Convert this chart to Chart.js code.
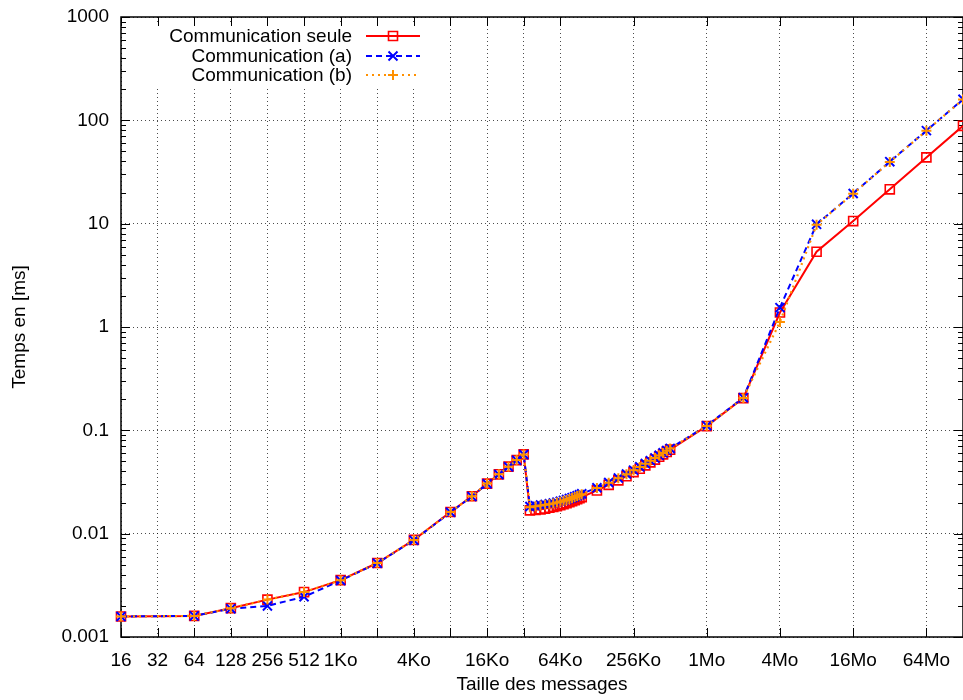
<!DOCTYPE html>
<html>
<head>
<meta charset="utf-8">
<script src="https://cdn.jsdelivr.net/npm/chart.js@4"></script>
<style>
  body { margin: 0; background: #fff; }
</style>
</head>
<body>
<canvas id="commChart" width="963" height="700"></canvas>
<script>
// tailles des messages, en octets
var sizes = [16, 64, 128, 256, 512, 1024, 2048,
  4096, 8192, 12288, 16384, 20480, 24576, 28672, 32768,
  36864, 40960, 45056, 49152, 53248, 57344, 61440, 65536,
  69632, 73728, 77824, 81920, 86016, 90112, 94208, 98304,
  131072, 163840, 196608, 229376, 262144, 294912, 327680,
  360448, 393216, 425984, 458752, 491520, 524288,
  1048576, 2097152, 4194304, 8388608, 16777216, 33554432, 67108864, 134217728];

// temps en ms
var tSeule = [0.00158, 0.00160, 0.00190, 0.00230, 0.00272, 0.00355, 0.00520,
  0.00870, 0.0162, 0.0230, 0.0305, 0.0375, 0.0445, 0.0515, 0.0585,
  0.0168, 0.0170, 0.0172, 0.0175, 0.0178, 0.0181, 0.0185, 0.0189,
  0.0193, 0.0197, 0.0202, 0.0206, 0.0211, 0.0216, 0.0221, 0.0226,
  0.0262, 0.0297, 0.0328, 0.0360, 0.0394, 0.0425, 0.0458,
  0.0490, 0.0521, 0.0555, 0.0586, 0.0618, 0.0650,
  0.110, 0.205, 1.38, 5.35, 10.6, 21.5, 43.8, 88.5];

var tA = [0.00158, 0.00160, 0.00188, 0.00200, 0.00245, 0.00352, 0.00518,
  0.00865, 0.0161, 0.0229, 0.0304, 0.0374, 0.0444, 0.0514, 0.0584,
  0.0183, 0.0186, 0.0189, 0.0192, 0.0195, 0.0198, 0.0202, 0.0206,
  0.0210, 0.0214, 0.0219, 0.0223, 0.0228, 0.0233, 0.0238, 0.0243,
  0.0278, 0.0313, 0.0345, 0.0378, 0.0412, 0.0444, 0.0477,
  0.0509, 0.0541, 0.0574, 0.0606, 0.0638, 0.0668,
  0.111, 0.207, 1.54, 9.85, 19.6, 39.8, 79.5, 160];

var tB = [0.00158, 0.00160, 0.00190, 0.00230, 0.00272, 0.00355, 0.00520,
  0.00870, 0.0162, 0.0230, 0.0305, 0.0375, 0.0445, 0.0515, 0.0585,
  0.0180, 0.0184, 0.0187, 0.0190, 0.0193, 0.0196, 0.0200, 0.0204,
  0.0208, 0.0212, 0.0217, 0.0221, 0.0226, 0.0231, 0.0236, 0.0241,
  0.0276, 0.0311, 0.0343, 0.0376, 0.0410, 0.0442, 0.0475,
  0.0507, 0.0539, 0.0572, 0.0604, 0.0636, 0.0666,
  0.110, 0.206, 1.12, 9.75, 19.5, 39.6, 79.2, 159];

var xTickVals = [16, 32, 64, 128, 256, 512, 1024, 2048, 4096, 8192, 16384, 32768,
  65536, 262144, 1048576, 4194304, 16777216, 67108864];
var xTickLabels = ['16', '32', '64', '128', '256', '512', '1Ko', '', '4Ko', '', '16Ko', '',
  '64Ko', '256Ko', '1Mo', '4Mo', '16Mo', '64Mo'];

var yTickVals = [0.001, 0.01, 0.1, 1, 10, 100, 1000];
var yTickLabels = ['0.001', '0.01', '0.1', '1', '10', '100', '1000'];

var FONT = 'Liberation Sans, Arial, Helvetica, sans-serif';

function pts(vals) {
  return sizes.map(function (s, i) { return { x: s, y: vals[i] }; });
}

function drawMarker(ctx, style, x, y) {
  ctx.beginPath();
  if (style === 'rect') {
    ctx.rect(x - 4.5, y - 4.5, 9, 9);
  } else if (style === 'crossRot') {
    ctx.moveTo(x - 4.5, y - 4.5); ctx.lineTo(x + 4.5, y + 4.5);
    ctx.moveTo(x - 4.5, y + 4.5); ctx.lineTo(x + 4.5, y - 4.5);
  } else {
    ctx.moveTo(x - 5, y); ctx.lineTo(x + 5, y);
    ctx.moveTo(x, y - 5); ctx.lineTo(x, y + 5);
  }
  ctx.stroke();
}

// cadre, petites graduations, légende et titres des axes
var gnuFrame = {
  id: 'gnuFrame',
  afterLayout: function (chart) {
    // la zone de tracé va jusqu'au bord droit du canvas
    var a = chart.chartArea, x = chart.scales.x;
    a.right = chart.width;
    a.width = a.right - a.left;
    x.right = chart.width;
    x.width = x.right - x.left;
    x.configure();
  },
  beforeDatasetsDraw: function (chart) {
    var ctx = chart.ctx, a = chart.chartArea;
    var x = chart.scales.x, y = chart.scales.y;
    ctx.save();
    // fond blanc de la légende
    ctx.fillStyle = '#fff';
    ctx.fillRect(150, 25, 275, 62);

    ctx.strokeStyle = '#000';
    ctx.lineWidth = 1;
    ctx.beginPath();
    xTickVals.forEach(function (v) {
      var px = Math.round(x.getPixelForValue(v)) + 0.5;
      ctx.moveTo(px, a.bottom); ctx.lineTo(px, a.bottom - 9);
      ctx.moveTo(px, a.top); ctx.lineTo(px, a.top + 9);
    });
    yTickVals.forEach(function (v, i) {
      var py = Math.round(y.getPixelForValue(v)) + 0.5;
      ctx.moveTo(a.left, py); ctx.lineTo(a.left + 9, py);
      ctx.moveTo(a.right, py); ctx.lineTo(a.right - 9, py);
      if (i < yTickVals.length - 1) {
        for (var k = 2; k <= 9; k++) {
          var pm = Math.round(y.getPixelForValue(v * k)) + 0.5;
          ctx.moveTo(a.left, pm); ctx.lineTo(a.left + 5, pm);
          ctx.moveTo(a.right, pm); ctx.lineTo(a.right - 5, pm);
        }
      }
    });
    ctx.stroke();

    ctx.lineWidth = 1.5;
    ctx.strokeRect(a.left, a.top, a.right - a.left, a.bottom - a.top);

    // légende
    ctx.font = '19px ' + FONT;
    ctx.textAlign = 'right';
    ctx.textBaseline = 'middle';
    var rows = [36, 56, 75];
    chart.data.datasets.forEach(function (ds, i) {
      var ry = rows[i];
      ctx.fillStyle = '#000';
      ctx.fillText(ds.label, 352, ry + 1);
      ctx.strokeStyle = ds.borderColor;
      ctx.lineWidth = ds.borderWidth;
      ctx.setLineDash(ds.borderDash || []);
      ctx.beginPath();
      ctx.moveTo(366, ry); ctx.lineTo(420, ry);
      ctx.stroke();
      ctx.setLineDash([]);
      ctx.lineWidth = ds.pointBorderWidth;
      drawMarker(ctx, ds.pointStyle, 393, ry);
    });

    // titres des axes
    ctx.fillStyle = '#000';
    ctx.textAlign = 'center';
    ctx.fillText('Taille des messages', 542, 685);
    ctx.translate(20, 327);
    ctx.rotate(-Math.PI / 2);
    ctx.fillText('Temps en [ms]', 0, 0);
    ctx.restore();
  }
};

var cfg = {
  type: 'line',
  data: {
    datasets: [{
      label: 'Communication seule',
      data: pts(tSeule),
      borderColor: '#ff0000',
      borderWidth: 2,
      pointStyle: 'rect',
      pointRadius: 6.4,
      pointBorderWidth: 1.6,
      pointBackgroundColor: 'rgba(0,0,0,0)',
      backgroundColor: 'rgba(0,0,0,0)',
      clip: false,
      order: 3
    }, {
      label: 'Communication (a)',
      data: pts(tA),
      borderColor: '#0000ff',
      borderWidth: 2,
      borderDash: [6, 4],
      pointStyle: 'crossRot',
      pointRadius: 6.4,
      pointBorderWidth: 2,
      backgroundColor: 'rgba(0,0,0,0)',
      clip: false,
      order: 2
    }, {
      label: 'Communication (b)',
      data: pts(tB),
      borderColor: '#ff9000',
      borderWidth: 2.2,
      borderDash: [2, 4],
      pointStyle: 'cross',
      pointRadius: 5,
      pointBorderWidth: 2,
      backgroundColor: 'rgba(0,0,0,0)',
      clip: false,
      order: 1
    }]
  },
  options: {
    responsive: false,
    animation: false,
    devicePixelRatio: 1,
    layout: { padding: { left: 0, right: 0, top: 17, bottom: 0 } },
    plugins: { legend: { display: false }, tooltip: { enabled: false } },
    scales: {
      x: {
        type: 'logarithmic',
        min: 16,
        max: 134217728,
        afterBuildTicks: function (s) { s.ticks = xTickVals.map(function (v) { return { value: v }; }); },
        afterFit: function (s) { s.height = 63; s.paddingLeft = 0; s.paddingRight = 0; },
        ticks: {
          autoSkip: false, maxRotation: 0, minRotation: 0, padding: 12,
          color: '#000', font: { family: FONT, size: 19 },
          callback: function (v, i) { return xTickLabels[i]; }
        },
        grid: { drawTicks: false, color: 'rgba(0,0,0,0.7)', lineWidth: 1 },
        border: { display: false, dash: [1, 3] }
      },
      y: {
        type: 'logarithmic',
        min: 0.001,
        max: 1000,
        afterBuildTicks: function (s) { s.ticks = yTickVals.map(function (v) { return { value: v }; }); },
        afterFit: function (s) { s.width = 121; s.paddingTop = 0; s.paddingBottom = 0; },
        ticks: {
          padding: 12,
          color: '#000', font: { family: FONT, size: 19 },
          callback: function (v, i) { return yTickLabels[i]; }
        },
        grid: { drawTicks: false, color: 'rgba(0,0,0,0.7)', lineWidth: 1 },
        border: { display: false, dash: [1, 3] }
      }
    }
  },
  plugins: [gnuFrame]
};

var commChart = new Chart(document.getElementById('commChart').getContext('2d'), cfg);
</script>
</body>
</html>
